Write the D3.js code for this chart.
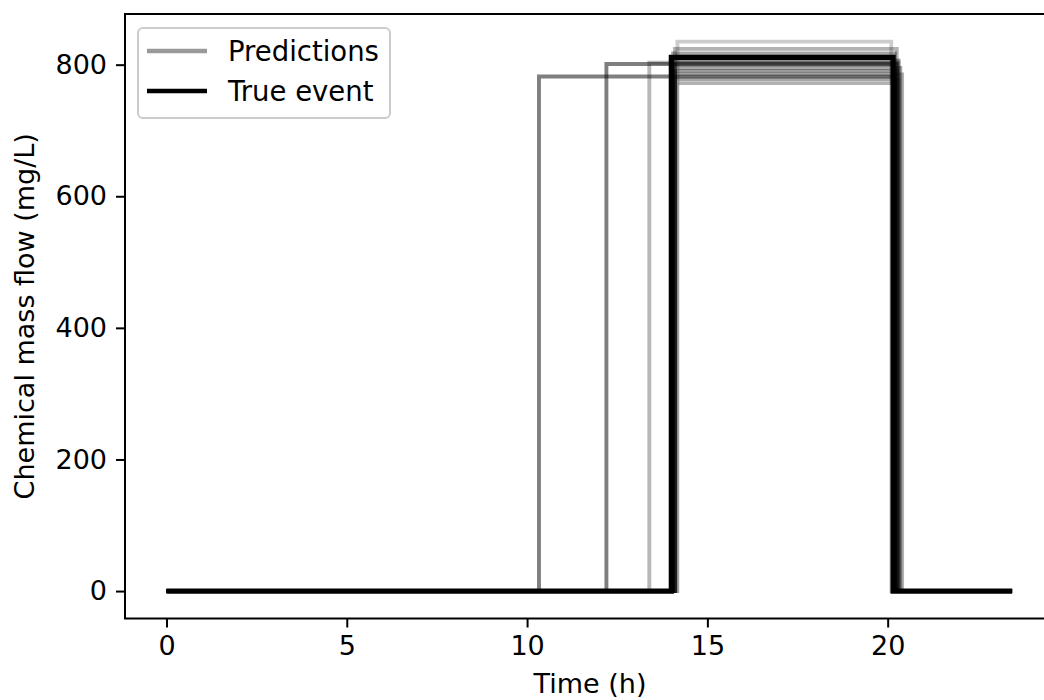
<!DOCTYPE html>
<html>
<head>
<meta charset="utf-8">
<style>
body { margin: 0; background: white; }
text { font-family: "DejaVu Sans", sans-serif; fill: #000; }
.axis text { font-size: 27px; }
.axis line { stroke: #000; stroke-width: 2; }
.axis path { display: none; }
</style>
<title>Predictions vs true event</title>
</head>
<body>
<svg width="1044" height="700"></svg>
<script src="https://d3js.org/d3.v7.min.js"></script>
<script>
// true event: step up at onset, down at offset
var trueOnset = 14.0, trueOffset = 20.15, trueLevel = 811, tEnd = 23.45;

// predicted events (onset h, offset h, level mg/L, weight)
var predOnset  = [10.33, 12.2, 13.39, 14.17, 14.1, 14.05, 14.1, 14.05, 14.1, 14.0, 14.1, 14.05, 14.15];
var predOffset = [20.2, 20.25, 20.3, 20.1, 20.25, 20.2, 20.3, 20.2, 20.35, 20.25, 20.4, 20.3, 20.2];
var predLevel  = [782, 801, 803, 835, 824, 817, 806, 800, 795, 790, 785, 778, 772];
var predWeight = [0.5, 0.5, 0.28, 0.2, 0.3, 0.35, 0.4, 0.4, 0.35, 0.4, 0.3, 0.35, 0.3];

var xTicks = [0, 5, 10, 15, 20];
var yTicks = [0, 200, 400, 600, 800];

var svg = d3.select("svg");

var x = d3.scaleLinear().domain([-1.15, 24.64]).range([125, 1055]);
var y = d3.scaleLinear().domain([-41.7, 877]).range([618.5, 14]);

function stepPoints(on, off, level) {
  return [[0, 0], [on, 0], [on, level], [off, level], [off, 0], [tEnd, 0]];
}

var line = d3.line()
  .x(function(d) { return x(d[0]); })
  .y(function(d) { return y(d[1]); });

var preds = predOnset.map(function(on, i) {
  return { pts: stepPoints(on, predOffset[i], predLevel[i]), w: predWeight[i] };
});

svg.append("g").selectAll("path")
  .data(preds)
  .enter().append("path")
    .attr("d", function(d) { return line(d.pts); })
    .attr("fill", "none")
    .attr("stroke", "#000")
    .attr("stroke-opacity", function(d) { return d.w; })
    .attr("stroke-width", 3.9);

svg.append("path")
  .attr("d", line(stepPoints(trueOnset, trueOffset, trueLevel)))
  .attr("fill", "none")
  .attr("stroke", "#000")
  .attr("stroke-width", 5.2);

// axes
svg.append("g")
  .attr("class", "axis")
  .attr("transform", "translate(0," + y.range()[0] + ")")
  .call(d3.axisBottom(x).tickValues(xTicks).tickSize(9).tickPadding(8));

svg.append("g")
  .attr("class", "axis")
  .attr("transform", "translate(" + x.range()[0] + ",0)")
  .call(d3.axisLeft(y).tickValues(yTicks).tickSize(9).tickPadding(9));

// spines
svg.append("rect")
  .attr("x", x.range()[0])
  .attr("y", y.range()[1])
  .attr("width", x.range()[1] - x.range()[0])
  .attr("height", y.range()[0] - y.range()[1])
  .attr("fill", "none")
  .attr("stroke", "#000")
  .attr("stroke-width", 2);

svg.append("text")
  .attr("x", (x.range()[0] + x.range()[1]) / 2)
  .attr("y", 693)
  .attr("text-anchor", "middle")
  .attr("font-size", "27px")
  .text("Time (h)");

svg.append("text")
  .attr("transform", "translate(34," + (y.range()[0] + y.range()[1]) / 2 + ") rotate(-90)")
  .attr("text-anchor", "middle")
  .attr("font-size", "27px")
  .text("Chemical mass flow (mg/L)");

// legend
var legend = svg.append("g").attr("transform", "translate(138,28)");
legend.append("rect")
  .attr("width", 252).attr("height", 90)
  .attr("rx", 5)
  .attr("fill", "white").attr("fill-opacity", 0.8)
  .attr("stroke", "#cccccc").attr("stroke-width", 2);

var legItems = [
  { label: "Predictions", opacity: 0.4 },
  { label: "True event", opacity: 1 }
];
legend.selectAll("g.item")
  .data(legItems)
  .enter().append("g")
    .attr("class", "item")
    .attr("transform", function(d, i) { return "translate(0," + (23 + i * 40) + ")"; })
    .each(function(d) {
      var g = d3.select(this);
      g.append("line")
        .attr("x1", 9).attr("x2", 69)
        .attr("stroke", "#000")
        .attr("stroke-opacity", d.opacity)
        .attr("stroke-width", 4.5);
      g.append("text")
        .attr("x", 90).attr("y", 10)
        .attr("font-size", "27.5px")
        .text(d.label);
    });
</script>
</body>
</html>
